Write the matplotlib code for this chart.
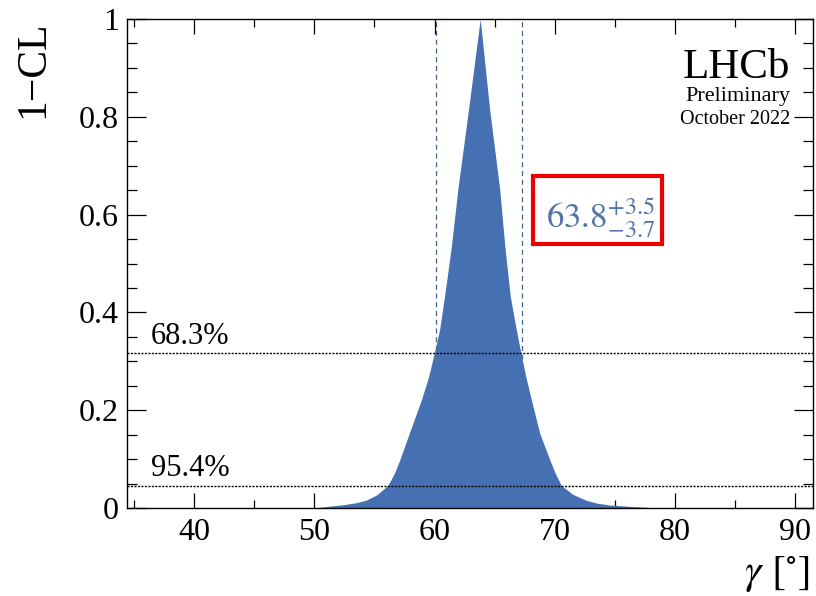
import matplotlib
matplotlib.use("Agg")
import matplotlib.pyplot as plt
from matplotlib.ticker import MultipleLocator, FuncFormatter
from matplotlib.patches import Rectangle

plt.rcParams["font.family"] = ["Liberation Serif", "DejaVu Serif"]
plt.rcParams["mathtext.fontset"] = "stix"

# 1-CL scan for gamma
gamma_vals = [50.0, 51.0, 52.5, 53.5, 54.3, 55.2, 56.1, 56.6, 57.1, 57.9, 58.9, 59.5,
              60.0, 60.42, 60.83, 61.4, 61.94, 62.83, 63.8,
              64.58, 65.42, 65.85, 66.3, 66.8, 67.17, 67.6, 68.06, 68.75, 69.6,
              70.1, 70.56, 71.5, 72.6, 73.5, 74.6, 76.5, 78.0, 80.0]
cl_vals = [0.000, 0.003, 0.007, 0.011, 0.016, 0.027, 0.046, 0.068, 0.098, 0.153, 0.221, 0.268,
           0.319, 0.365, 0.433, 0.535, 0.652, 0.816, 1.000,
           0.816, 0.652, 0.535, 0.433, 0.365, 0.319, 0.268, 0.221, 0.153, 0.098,
           0.068, 0.046, 0.028, 0.016, 0.010, 0.006, 0.003, 0.001, 0.000]

best_fit = 63.8
err_up = 3.5
err_down = 3.7
cl_levels = [0.317, 0.046]
cl_labels = ["68.3%", "95.4%"]

fill_color = "#4571b3"
text_blue = "#5373a8"

fig = plt.figure(figsize=(8.16, 5.96), dpi=100)
ax = fig.add_axes([127 / 816, 88 / 596, 686 / 816, 489 / 596])

# interval boundaries
ax.axvline(best_fit - err_down, color="#3f628f", lw=0.9, dashes=(4, 3), zorder=1)
ax.axvline(best_fit + err_up, color="#3f628f", lw=0.9, dashes=(4, 3), zorder=1)

ax.fill_between(gamma_vals, cl_vals, 0, color=fill_color, lw=0, zorder=2)

for lev, lab in zip(cl_levels, cl_labels):
    ax.axhline(lev, color="black", lw=1.0, dashes=(1.5, 1.0), zorder=3)
    ax.text(36.4, lev + 0.019, lab, fontsize=22, ha="left", va="baseline")

ax.set_xlim(34.4, 91.5)
ax.set_ylim(0, 1)

ax.xaxis.set_major_locator(MultipleLocator(10))
ax.xaxis.set_minor_locator(MultipleLocator(5))
ax.yaxis.set_major_locator(MultipleLocator(0.2))
ax.yaxis.set_minor_locator(MultipleLocator(0.05))
ax.yaxis.set_major_formatter(FuncFormatter(lambda v, p: f"{v:g}"))

ax.tick_params(which="both", direction="in", top=True, right=True, labelsize=23, width=0.9)
ax.tick_params(axis="x", which="major", length=11, pad=7)
ax.tick_params(axis="x", which="minor", length=6)
ax.tick_params(axis="y", which="major", length=14, pad=6)
ax.tick_params(axis="y", which="minor", length=7)
for s in ax.spines.values():
    s.set_linewidth(1.0)

fig.text(33 / 816, 1 - 21 / 596, "1\u2212CL", rotation=90, fontsize=30, ha="center", va="top")
fig.text(810 / 816, 1 - 583 / 596, r"$\gamma\ [^{\circ}]$", fontsize=30, ha="right", va="baseline")

# LHCb label
fig.text(790 / 816, 1 - 78 / 596, "LHCb", fontsize=31, ha="right", va="baseline")
fig.text(790 / 816, 1 - 101 / 596, "Preliminary", fontsize=16, ha="right", va="baseline")
fig.text(790 / 816, 1 - 124 / 596, "October 2022", fontsize=14.5, ha="right", va="baseline")

# result with red box
fig.text(546 / 816, 1 - 228 / 596, r"$63.8^{+3.5}_{-3.7}$", fontsize=25, color=text_blue,
         ha="left", va="baseline")
fig.patches.append(Rectangle((533 / 816, 1 - 244 / 596), 129 / 816, 68 / 596,
                             transform=fig.transFigure, fill=False, ec="#ee0000", lw=3))

plt.savefig("out.png", dpi=100)
